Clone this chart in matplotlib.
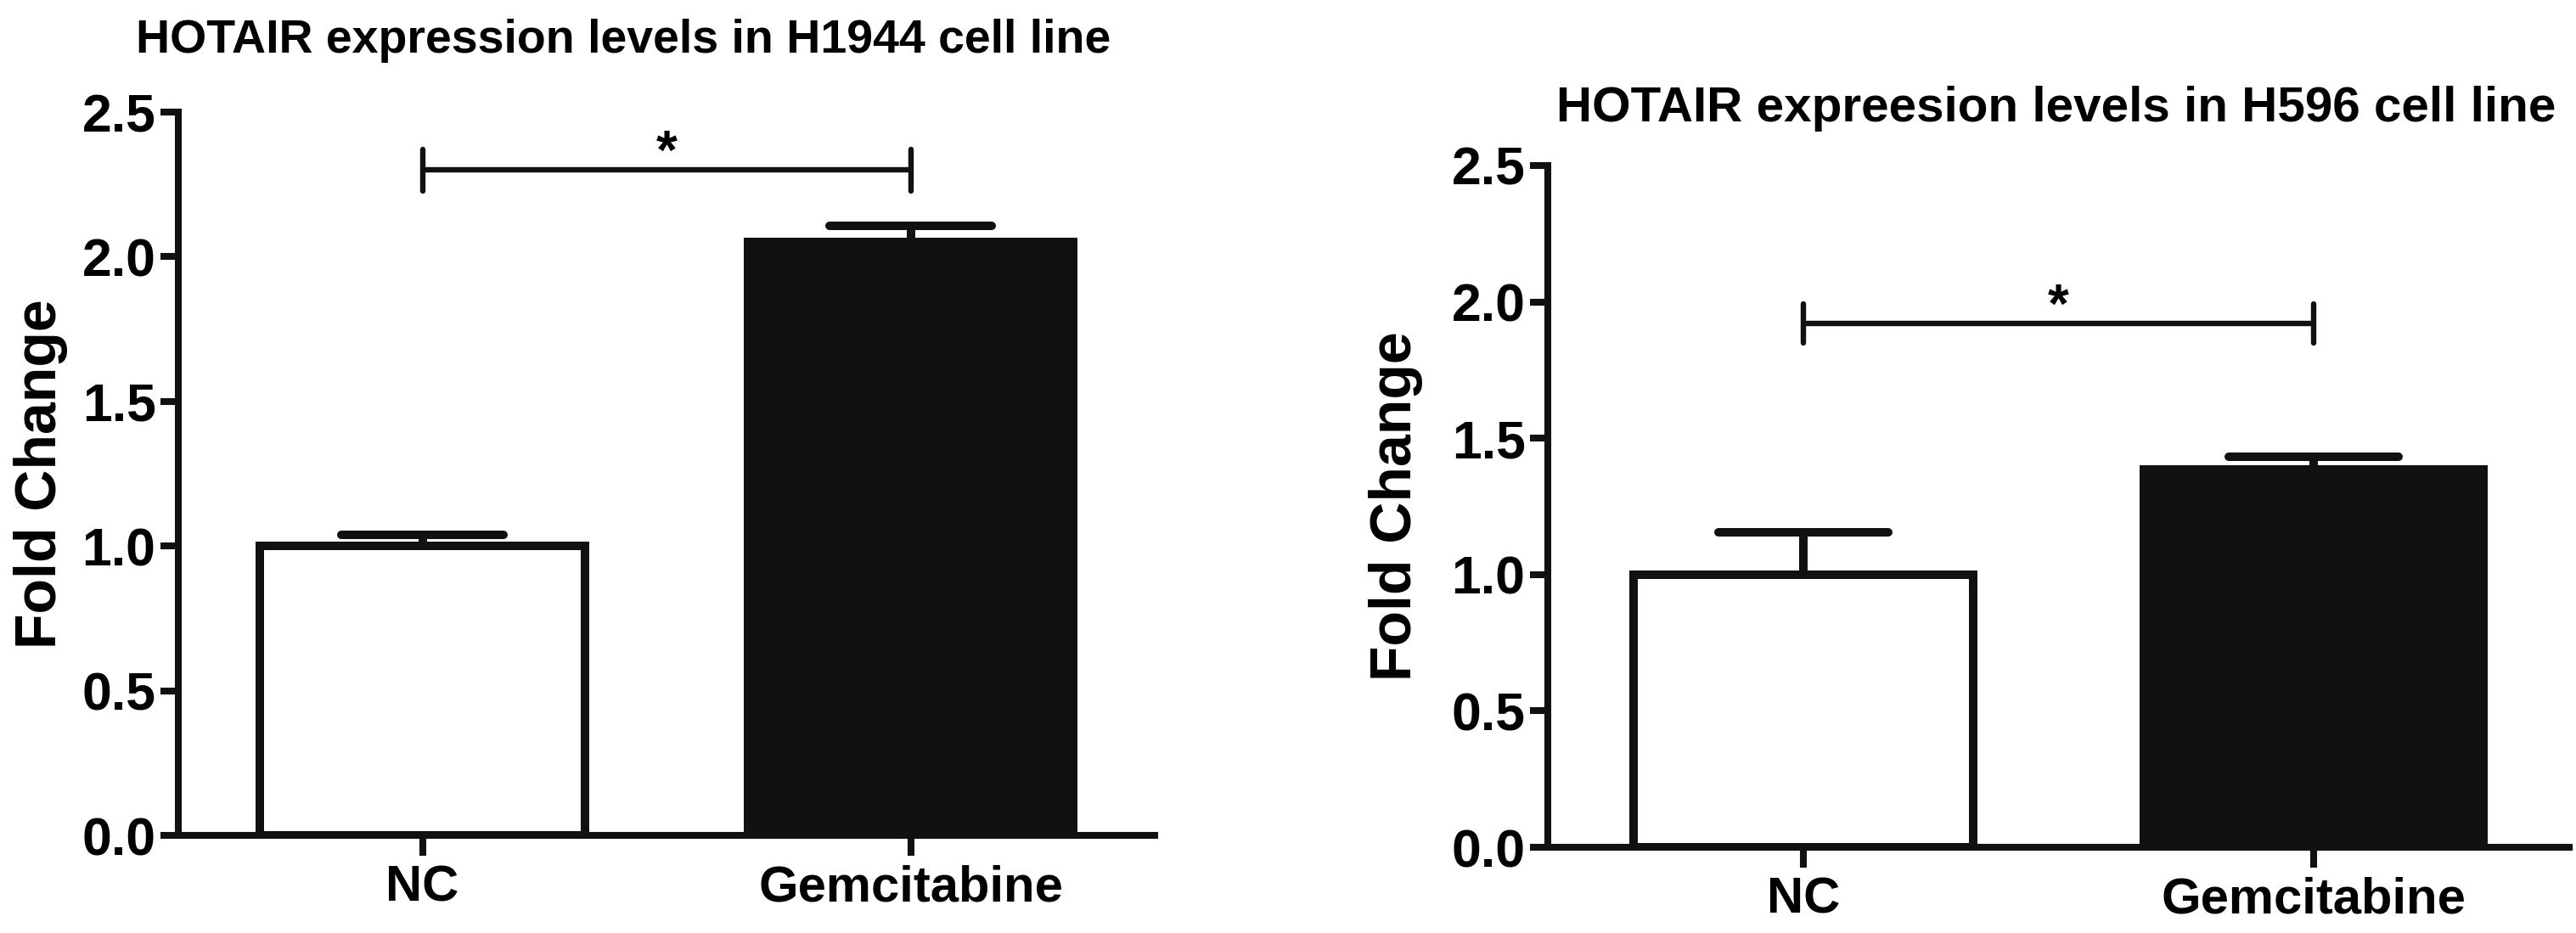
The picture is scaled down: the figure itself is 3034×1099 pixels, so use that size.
import matplotlib
matplotlib.use("Agg")
import matplotlib.pyplot as plt

groups = ["NC", "Gemcitabine"]

h1944_title = "HOTAIR expression levels in H1944 cell line"
h1944_mean = [1.00, 2.05]
h1944_sem = [0.04, 0.057]
h1944_sig_y = 2.30

h596_title = "HOTAIR expreesion levels in H596 cell line"
h596_mean = [1.00, 1.385]
h596_sem = [0.155, 0.048]
h596_sig_y = 1.92

yticks = [0.0, 0.5, 1.0, 1.5, 2.0, 2.5]
ylabel = "Fold Change"

W, H = 3034, 1099
LW = 7.2       # bar edge / error bar
AX_LW = 5.8    # axis spines
TICK_FONT = ["Liberation Sans Narrow", "Liberation Sans"]
MAIN_FONT = ["Liberation Sans", "DejaVu Sans"]


def bar_panel(fig, rect, title, title_xy, title_size, means, sems, sig_y,
              ylab_x):
    ax = fig.add_axes(rect)
    x = list(range(len(groups)))
    width = 0.665
    ax.bar(x, means, width=width, color=["white", "#111111"],
           edgecolor="#111111", linewidth=LW, zorder=3)
    # upper error bars only (GraphPad style)
    for xi, m, s in zip(x, means, sems):
        ax.vlines(xi, m, m + s, color="#111111", linewidth=LW, zorder=2)
        ax.hlines(m + s, xi - width / 4, xi + width / 4, color="#111111",
                  linewidth=LW, capstyle="round", zorder=2)
    # significance bracket
    ax.hlines(sig_y, x[0], x[1], color="#111111", linewidth=4.6)
    for xi in (x[0], x[1]):
        ax.vlines(xi, sig_y - 0.072, sig_y + 0.072, color="#111111",
                  linewidth=4.6, capstyle="round")
    ax.annotate("*", xy=((x[0] + x[1]) / 2, sig_y), xytext=(0, 1),
                textcoords="offset points", ha="center", va="baseline",
                fontsize=46, fontweight="bold", family=MAIN_FONT)

    ax.set_xlim(-0.5, 1.5)
    ax.set_ylim(0, 2.5)
    ax.set_yticks(yticks)
    ax.set_yticklabels(["%.1f" % v for v in yticks], family=TICK_FONT,
                       fontweight="bold", fontsize=45)
    ax.set_xticks(x)
    ax.set_xticklabels(groups, family=MAIN_FONT, fontweight="bold",
                       fontsize=43)
    for sp in ("top", "right"):
        ax.spines[sp].set_visible(False)
    for sp in ("left", "bottom"):
        ax.spines[sp].set_linewidth(AX_LW)
        ax.spines[sp].set_color("#111111")
    ax.tick_params(axis="y", length=15, width=AX_LW, pad=4, color="#111111")
    ax.tick_params(axis="x", length=17, width=AX_LW, pad=8, color="#111111")

    fig.text(ylab_x / W, rect[1] + rect[3] / 2, ylabel, rotation=90,
             ha="center", va="center", fontsize=49, fontweight="bold",
             family=MAIN_FONT)
    fig.text(title_xy[0] / W, 1 - title_xy[1] / H, title, ha="left",
             va="baseline", fontsize=title_size, fontweight="bold",
             family=MAIN_FONT)
    return ax


def main():
    fig = plt.figure(figsize=(W / 100, H / 100), dpi=100)
    fig.patch.set_facecolor("white")

    left_rect = [210 / W, 1 - 984 / H, (1360 - 210) / W, (984 - 132) / H]
    right_rect = [1823 / W, 1 - 998 / H, (3026 - 1823) / W, (998 - 195) / H]

    bar_panel(fig, left_rect, h1944_title, (160, 62), 40, h1944_mean,
              h1944_sem, h1944_sig_y, 48)
    bar_panel(fig, right_rect, h596_title, (1833, 143), 42, h596_mean,
              h596_sem, h596_sig_y, 1644)

    fig.savefig("out.png", dpi=100, facecolor="white")


if __name__ == "__main__":
    main()
